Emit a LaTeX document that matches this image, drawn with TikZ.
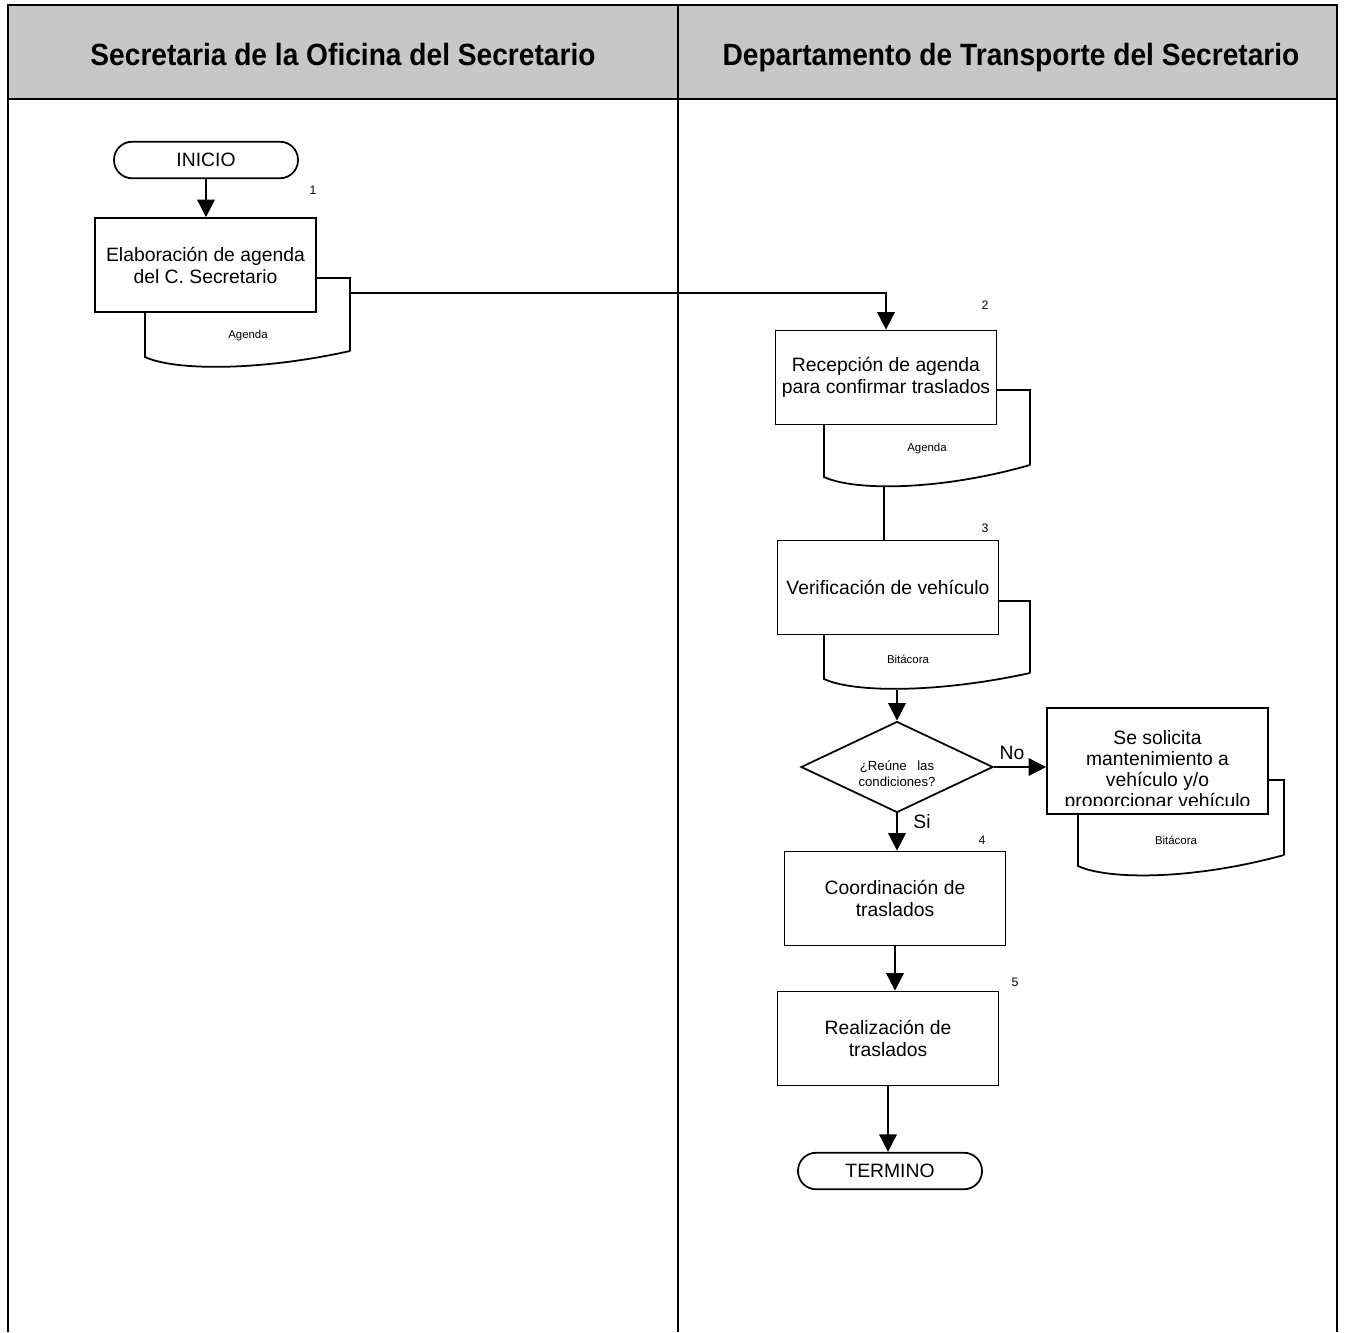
\documentclass[tikz,border=0pt]{standalone}
\usepackage{fontspec}
\setmainfont{Liberation Sans}
\usetikzlibrary{arrows.meta,positioning,shapes.geometric}

\begin{document}
\begin{tikzpicture}[x=0.02cm,y=-0.02cm,>={Triangle[length=0.35cm,width=0.35cm]}]
  \useasboundingbox (0,0) rectangle (1345,1332);
  \tikzset{
    lane/.style={line width=1.3pt},
    header/.style={anchor=base,font=\fontsize{17.5}{19}\selectfont\bfseries},
    process/.style={rectangle,draw,fill=white,line width=1pt,minimum width=4.42cm,minimum height=1.88cm,align=center,font=\fontsize{11}{12.5}\selectfont},
    terminal/.style={rectangle,rounded corners=0.36cm,draw,line width=1pt,minimum width=3.68cm,minimum height=0.73cm,font=\fontsize{11}{13}\selectfont},
    decision/.style={diamond,draw,fill=white,line width=1pt,minimum width=3.84cm,minimum height=1.82cm,inner sep=0pt},
    % document outlines
    docline/.style={line width=1pt},
    doclabel/.style={font=\fontsize{6.5}{8}\selectfont},
    stepnum/.style={font=\fontsize{7}{8}\selectfont},
    answer/.style={font=\fontsize{11}{13}\selectfont},
    flow/.style={->,line width=1pt}
  }

  \fill[white] (0,0) rectangle (1345,1332);

  % Lanes
  \fill[black!22] (8,5) rectangle (1337,99);
  \draw[lane] (8,1332) -- (8,5) -- (1337,5) -- (1337,1332);
  \draw[lane] (8,99) -- (1337,99);
  \draw[lane] (678,5) -- (678,1332);
  \node[header] (laneA) at (343,65) {\scalebox{0.915}[1]{Secretaria de la Oficina del Secretario}};
  \node[header] (laneB) at (1011,65) {\scalebox{0.915}[1]{Departamento de Transporte del Secretario}};

  % Documents (drawn first, boxes go on top)
  \draw[docline] (350,351) -- (350,278) -- (145,278) -- (145,357)
    .. controls (175,371) and (260,371) .. (350,351);
  \node[doclabel] (doc1) at (248,336) {Agenda};

  \draw[docline] (1030,465) -- (1030,390) -- (824,390) -- (824,477)
    .. controls (854,491) and (939,491) .. (1030,465);
  \node[doclabel] (doc2) at (927,449) {Agenda};

  \draw[docline] (1030,673) -- (1030,601) -- (824,601) -- (824,679)
    .. controls (854,693) and (939,693) .. (1030,673);
  \node[doclabel] (doc3) at (908,659) {Bitácora};

  \draw[docline] (1284,855) -- (1284,780) -- (1078,780) -- (1078,866)
    .. controls (1108,880) and (1193,880) .. (1284,855);
  \node[doclabel] (doc4) at (1176,840) {Bitácora};

  % Secretaria
  \node[terminal] (inicio) at (206,160) {INICIO};
  \node[process] (agenda) at (205.5,265) {Elaboración de agenda\\del C. Secretario};
  \node[stepnum] (n1) at (313,190) {1};
  \draw[flow] (inicio) -- (inicio |- agenda.north);

  % Transporte
  \node[process] (recep) at (886,377.5) {Recepción de agenda\\para confirmar traslados};
  \node[stepnum] (n2) at (985,305) {2};
  \coordinate (doc1out) at (350,293);
  \draw[flow] (doc1out) -| (recep.north);

  \node[process] (verif) at (888,587.5) {Verificación de vehículo};
  \node[stepnum] (n3) at (985,528) {3};
  \coordinate (doc2out) at (884,487);
  \draw[line width=1pt] (doc2out) -- (doc2out |- verif.north);

  \node[decision] (reune) at (897,767) {};
  \node[align=center,font=\fontsize{7.5}{9}\selectfont] (reunetxt) at (897,774)
    {¿Reúne\hspace{0.8em}las\\condiciones?};
  \coordinate (doc3out) at (897,690);
  \draw[flow] (doc3out) -- (reune.north);

  \node[process,minimum height=2.12cm] (sol) at (1157.5,761) {};
  \begin{scope}
    \clip ([yshift=0.18cm]sol.south west) rectangle (sol.north east);
    \node[align=center,font=\fontsize{11}{12}\selectfont] (soltext) at (1157.5,771)
      {Se solicita\\mantenimiento a\\vehículo y/o\\proporcionar vehículo};
  \end{scope}
  \draw[flow] (reune.east) -- (reune.east -| sol.west);
  \node[answer] (lblno) at (1012,753) {No};

  \node[process] (coord) at (895,898.5) {Coordinación de\\traslados};
  \node[stepnum] (n4) at (982,840) {4};
  \draw[flow] (reune.south) -- (reune.south |- coord.north);
  \node[answer] (lblsi) at (922,822) {Si};

  \node[process] (realiz) at (888,1038.5) {Realización de\\traslados};
  \node[stepnum] (n5) at (1015,982) {5};
  \draw[flow] (coord.south) -- (coord.south |- realiz.north);

  \node[terminal] (termino) at (890,1171) {TERMINO};
  \draw[flow] (realiz.south) -- (realiz.south |- termino.north);
\end{tikzpicture}
\end{document}
